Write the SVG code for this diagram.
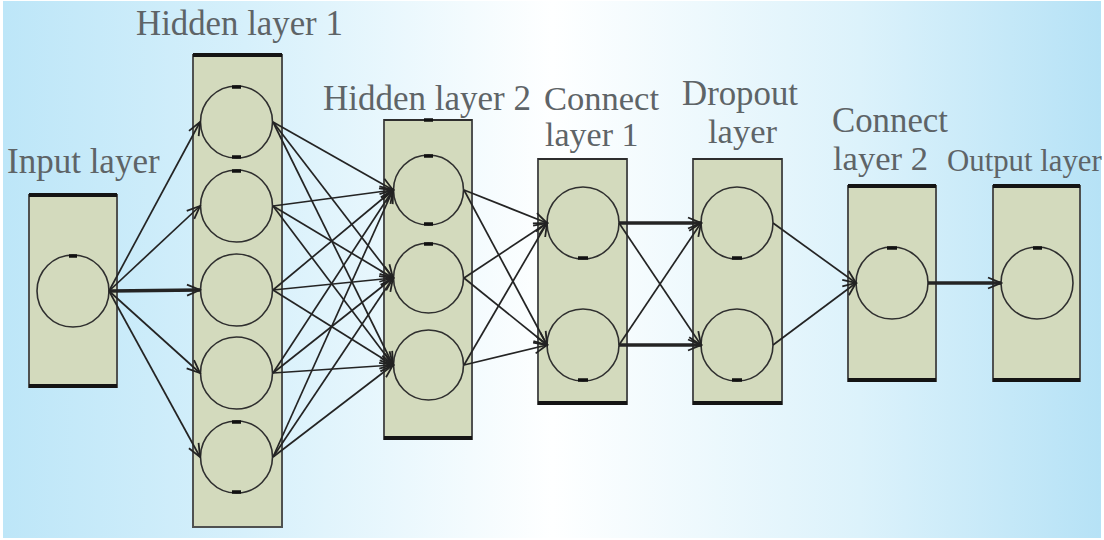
<svg xmlns="http://www.w3.org/2000/svg" width="1104" height="540" viewBox="0 0 1104 540">
  <defs>
    <linearGradient id="sky" x1="0" y1="0" x2="1" y2="0">
      <stop offset="0" stop-color="#bde6f8"/>
      <stop offset="0.22" stop-color="#d6f0fb"/>
      <stop offset="0.5" stop-color="#feffff"/>
      <stop offset="0.78" stop-color="#dcf2fb"/>
      <stop offset="1" stop-color="#b6e2f6"/>
    </linearGradient>
    <marker id="arrow" viewBox="-15 -8 17 16" refX="0" refY="0" markerWidth="17" markerHeight="16" markerUnits="userSpaceOnUse" orient="auto">
      <path d="M-13,-5.5 L0,0 L-13,5.5" fill="none" stroke="#222" stroke-width="1.8" stroke-linejoin="miter"/>
    </marker>
    <style>
      .box { fill: #d3dabd; stroke: #4f5150; stroke-width: 2; }
      .bar { stroke: #141414; stroke-width: 4; }
      .thin { stroke: #2e2e2e; stroke-width: 2; }
      .unit { fill: #d3dabd; stroke: #2f2f2f; stroke-width: 1.6; }
      .nick { stroke: #111; stroke-width: 3.5; stroke-linecap: butt; }
      .link { stroke: #242424; stroke-width: 1.7; fill: none; marker-end: url(#arrow); }
      .link.heavy { stroke-width: 3.4; }
      .label { fill: #5e6467; font-family: 'Liberation Serif', serif; }
    </style>
  </defs>

  <!-- backdrop -->
  <rect x="0" y="0" width="1104" height="540" fill="#ffffff"/>
  <rect x="3" y="1" width="1098" height="537" fill="url(#sky)"/>

  <!-- labels -->
  <g class="label">
    <text x="136" y="35" font-size="34.8">Hidden layer 1</text>
    <text x="7" y="173" font-size="35">Input layer</text>
    <text x="323" y="110" font-size="35">Hidden layer 2</text>
    <text x="544" y="110" font-size="34.5">Connect</text>
    <text x="545" y="146" font-size="34">layer 1</text>
    <text x="682" y="105" font-size="34.8">Dropout</text>
    <text x="708" y="143" font-size="34.5">layer</text>
    <text x="832" y="132" font-size="34.8">Connect</text>
    <text x="833" y="170" font-size="34.6">layer 2</text>
    <text x="947" y="171" font-size="30.8">Output layer</text>
  </g>

  <!-- input layer -->
  <g id="input-layer">
    <rect class="box" x="29" y="195" width="88" height="192"/>
    <line class="bar" x1="29" y1="195" x2="117" y2="195"/>
    <line class="bar" x1="29" y1="386" x2="117" y2="386"/>
    <circle class="unit" cx="73" cy="291" r="36"/>
    <line class="nick" x1="69" y1="256" x2="77" y2="256"/>
  </g>

  <!-- hidden layer 1 -->
  <g id="hidden-layer-1">
    <rect class="box" x="193" y="55" width="89" height="472"/>
    <line class="bar" x1="193" y1="55" x2="282" y2="55"/>
    <circle class="unit" cx="236.5" cy="122" r="36"/>
    <circle class="unit" cx="236.5" cy="206" r="36"/>
    <circle class="unit" cx="236.5" cy="290" r="36"/>
    <circle class="unit" cx="236.5" cy="373" r="36"/>
    <circle class="unit" cx="236.5" cy="457" r="36"/>
    <line class="nick" x1="232" y1="87" x2="241" y2="87"/>
    <line class="nick" x1="232" y1="157" x2="241" y2="157"/>
    <line class="nick" x1="232" y1="171" x2="241" y2="171"/>
    <line class="nick" x1="232" y1="422" x2="241" y2="422"/>
    <line class="nick" x1="232" y1="492" x2="241" y2="492"/>
  </g>

  <!-- hidden layer 2 -->
  <g id="hidden-layer-2">
    <rect class="box" x="384" y="120" width="88" height="319"/>
    <line class="thin" x1="384" y1="120" x2="472" y2="120"/>
    <line class="bar" x1="384" y1="438" x2="472" y2="438"/>
    <line class="nick" x1="424" y1="120" x2="433" y2="120"/>
    <circle class="unit" cx="428.5" cy="190" r="35"/>
    <circle class="unit" cx="428.5" cy="278" r="35"/>
    <circle class="unit" cx="428.5" cy="365" r="35"/>
    <line class="nick" x1="424" y1="156" x2="433" y2="156"/>
    <line class="nick" x1="424" y1="224" x2="433" y2="224"/>
    <line class="nick" x1="424" y1="244" x2="433" y2="244"/>
  </g>

  <!-- connect layer 1 -->
  <g id="connect-layer-1">
    <rect class="box" x="538" y="159" width="89" height="245"/>
    <line class="thin" x1="538" y1="159" x2="627" y2="159"/>
    <line class="bar" x1="538" y1="403" x2="627" y2="403"/>
    <circle class="unit" cx="583" cy="223" r="36"/>
    <circle class="unit" cx="583" cy="345" r="36"/>
    <line class="nick" x1="578" y1="258" x2="588" y2="258"/>
    <line class="nick" x1="578" y1="380" x2="588" y2="380"/>
  </g>

  <!-- dropout layer -->
  <g id="dropout-layer">
    <rect class="box" x="693" y="159" width="89" height="245"/>
    <line class="thin" x1="693" y1="159" x2="782" y2="159"/>
    <line class="bar" x1="693" y1="403" x2="782" y2="403"/>
    <circle class="unit" cx="737" cy="223" r="36"/>
    <circle class="unit" cx="737" cy="345" r="36"/>
    <line class="nick" x1="732" y1="258" x2="742" y2="258"/>
    <line class="nick" x1="732" y1="380" x2="742" y2="380"/>
  </g>

  <!-- connect layer 2 -->
  <g id="connect-layer-2">
    <rect class="box" x="848" y="186" width="88" height="195"/>
    <line class="bar" x1="848" y1="186" x2="936" y2="186"/>
    <line class="bar" x1="848" y1="380" x2="936" y2="380"/>
    <circle class="unit" cx="892" cy="283" r="36"/>
    <line class="nick" x1="887" y1="248" x2="897" y2="248"/>
  </g>

  <!-- output layer -->
  <g id="output-layer">
    <rect class="box" x="993" y="186" width="87" height="195"/>
    <line class="bar" x1="993" y1="186" x2="1080" y2="186"/>
    <line class="bar" x1="993" y1="380" x2="1080" y2="380"/>
    <circle class="unit" cx="1037" cy="283" r="36"/>
    <line class="nick" x1="1033" y1="248" x2="1042" y2="248"/>
  </g>

  <!-- connections -->
  <g id="connectors">
    <!-- input to hidden 1 -->
    <line class="link" x1="109" y1="291" x2="200" y2="122"/>
    <line class="link" x1="109" y1="291" x2="200" y2="206"/>
    <line class="link heavy" x1="109" y1="291" x2="200" y2="290"/>
    <line class="link" x1="109" y1="291" x2="200" y2="373"/>
    <line class="link" x1="109" y1="291" x2="200" y2="457"/>

    <!-- hidden 1 to hidden 2 -->
    <line class="link" x1="273" y1="122" x2="393" y2="190"/>
    <line class="link" x1="273" y1="122" x2="393" y2="278"/>
    <line class="link" x1="273" y1="122" x2="393" y2="365"/>
    <line class="link" x1="273" y1="206" x2="393" y2="190"/>
    <line class="link" x1="273" y1="206" x2="393" y2="278"/>
    <line class="link" x1="273" y1="206" x2="393" y2="365"/>
    <line class="link" x1="273" y1="290" x2="393" y2="190"/>
    <line class="link" x1="273" y1="290" x2="393" y2="278"/>
    <line class="link" x1="273" y1="290" x2="393" y2="365"/>
    <line class="link" x1="273" y1="373" x2="393" y2="190"/>
    <line class="link" x1="273" y1="373" x2="393" y2="278"/>
    <line class="link" x1="273" y1="373" x2="393" y2="365"/>
    <line class="link" x1="273" y1="457" x2="393" y2="190"/>
    <line class="link" x1="273" y1="457" x2="393" y2="278"/>
    <line class="link" x1="273" y1="457" x2="393" y2="365"/>

    <!-- hidden 2 to connect 1 -->
    <line class="link" x1="464" y1="190" x2="547" y2="223"/>
    <line class="link" x1="464" y1="190" x2="547" y2="345"/>
    <line class="link" x1="464" y1="278" x2="547" y2="223"/>
    <line class="link" x1="464" y1="278" x2="547" y2="345"/>
    <line class="link" x1="464" y1="365" x2="547" y2="223"/>
    <line class="link" x1="464" y1="365" x2="547" y2="345"/>

    <!-- connect 1 to dropout -->
    <line class="link heavy" x1="619" y1="223" x2="701" y2="223"/>
    <line class="link" x1="619" y1="223" x2="701" y2="345"/>
    <line class="link" x1="619" y1="345" x2="701" y2="223"/>
    <line class="link heavy" x1="619" y1="345" x2="701" y2="345"/>

    <!-- dropout to connect 2 -->
    <line class="link" x1="773" y1="223" x2="856" y2="283"/>
    <line class="link" x1="773" y1="345" x2="856" y2="283"/>

    <!-- connect 2 to output -->
    <line class="link heavy" x1="928" y1="283" x2="1001" y2="283"/>
  </g>
</svg>
